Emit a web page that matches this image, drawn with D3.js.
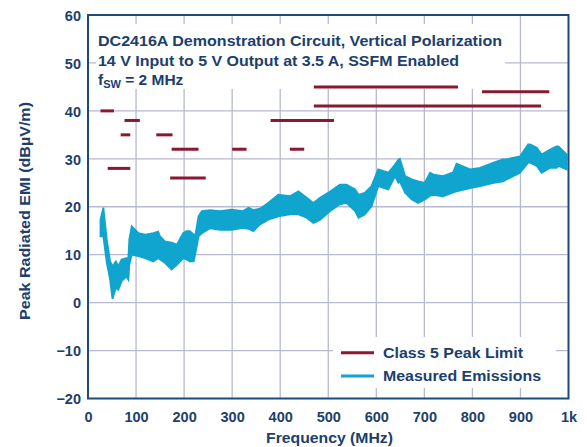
<!DOCTYPE html>
<html>
<head>
<meta charset="utf-8">
<script src="https://cdn.jsdelivr.net/npm/d3@7"></script>
<style>
  html, body { margin: 0; padding: 0; background: #fff; }
  svg text { font-family: "Liberation Sans", Arial, Helvetica, sans-serif; font-weight: bold; fill: #1c406d; }
</style>
</head>
<body>
<svg id="chart" width="587" height="447"></svg>
<script>
// ---------- data ----------
const xTickValues = [0, 100, 200, 300, 400, 500, 600, 700, 800, 900, 1000];
const xTickLabels = ["0", "100", "200", "300", "400", "500", "600", "700", "800", "900", "1k"];
const yTickValues = [-20, -10, 0, 10, 20, 30, 40, 50, 60];
const yTickLabels = ["\u221220", "\u221210", "0", "10", "20", "30", "40", "50", "60"];

// Class 5 peak limit segments (MHz start, MHz end, dBµV/m)
const limitStart = [26, 41, 68, 76, 142, 171, 174, 300, 380, 420, 470, 470, 820];
const limitEnd   = [54, 88, 88, 108, 176, 245, 230, 330, 512, 450, 770, 943, 960];
const limitLevel = [40, 28, 35, 38, 35, 26, 32, 32, 38, 32, 45, 41, 44];

// Measured emissions envelope (MHz, low, high in dBµV/m)
const emisFreq = [26, 32, 39, 46, 51, 58, 63, 70, 80, 84, 86, 91, 105, 119, 136, 146, 150, 160, 174, 185, 198, 205, 212, 220, 223, 230, 237, 254, 275, 299, 323, 334, 344, 358, 375, 396, 420, 438, 455, 469, 483, 504, 524, 538, 556, 563, 576, 590, 604, 625, 639, 646, 649, 660, 674, 687, 701, 712, 719, 739, 760, 767, 795, 816, 844, 864, 871, 899, 916, 920, 934, 944, 961, 975, 979, 996];
const emisLow  = [13.8, 13.8, 8.4, 4.8, 0.8, 3.1, 2.7, 4.5, 5.5, 4.8, 7.9, 10.0, 9.7, 9.3, 8.6, 9.3, 9.0, 8.3, 6.9, 7.9, 9.3, 9.0, 8.6, 8.6, 10.0, 13.8, 14.5, 15.5, 15.2, 15.2, 15.6, 15.4, 14.9, 16.3, 17.3, 18.0, 18.4, 18.4, 17.7, 16.6, 17.3, 19.1, 20.5, 20.8, 19.1, 17.7, 18.4, 20.1, 24.3, 23.6, 26.4, 25.0, 25.3, 22.9, 21.5, 20.8, 21.5, 22.3, 22.5, 22.2, 23.0, 23.2, 23.9, 24.3, 25.0, 25.3, 25.7, 27.1, 29.2, 29.2, 28.5, 27.1, 28.1, 28.1, 28.5, 27.8];
const emisHigh = [17.3, 19.8, 13.2, 8.6, 7.6, 8.6, 7.6, 9.0, 9.3, 9.3, 13.2, 15.9, 14.5, 14.2, 14.5, 14.8, 13.8, 12.8, 12.5, 12.1, 14.5, 14.9, 14.9, 14.2, 13.8, 18.0, 19.1, 19.3, 19.1, 19.4, 19.1, 19.8, 19.3, 19.6, 20.8, 22.5, 22.2, 23.2, 21.9, 20.8, 21.9, 23.2, 24.6, 24.6, 23.6, 22.5, 22.9, 24.3, 27.8, 27.1, 28.8, 29.8, 30.0, 26.4, 25.7, 25.3, 25.0, 27.1, 26.7, 26.4, 27.2, 29.0, 27.8, 28.1, 29.2, 29.9, 29.9, 30.5, 33.0, 33.0, 32.3, 30.9, 31.9, 32.6, 32.6, 30.9];

const titleLines = ["DC2416A Demonstration Circuit, Vertical Polarization", "14 V Input to 5 V Output at 3.5 A, SSFM Enabled"];
const legendLabels = ["Class 5 Peak Limit", "Measured Emissions"];

// ---------- layout ----------
const svg = d3.select("#chart");
const L = 88, R = 568.5, T = 15, B = 398.5;
const x = d3.scaleLinear().domain([0, 1000]).range([L, R]);
const y = d3.scaleLinear().domain([-20, 60]).range([B, T]);
const navy = "#1c406d", frame = "#1d4a78", grid = "#b7b9cd";
const red = "#8a1830", blue = "#10a5cf";

function fit(sel, w) { sel.attr("textLength", w).attr("lengthAdjust", "spacingAndGlyphs"); return sel; }

// grid
svg.append("g").selectAll("line.v").data(xTickValues.slice(1, -1)).join("line")
  .attr("x1", d => x(d)).attr("x2", d => x(d)).attr("y1", T).attr("y2", B)
  .attr("stroke", grid).attr("stroke-width", 1.3);
svg.append("g").selectAll("line.h").data(yTickValues.slice(1, -1)).join("line")
  .attr("x1", L).attr("x2", R).attr("y1", d => y(d)).attr("y2", d => y(d))
  .attr("stroke", grid).attr("stroke-width", 1.3);

// title box background
svg.append("rect").attr("x", 96).attr("y", 24).attr("width", 409).attr("height", 65).attr("fill", "#fff");

// emissions band
const idx = d3.range(emisFreq.length);
const area = d3.area().x(i => x(emisFreq[i])).y0(i => y(emisLow[i])).y1(i => y(emisHigh[i]));
svg.append("path").datum(idx).attr("d", area)
  .attr("fill", blue).attr("stroke", blue).attr("stroke-width", 1.8).attr("stroke-linejoin", "miter");

// limit segments
svg.append("g").selectAll("line").data(d3.range(limitStart.length)).join("line")
  .attr("x1", i => x(limitStart[i])).attr("x2", i => x(limitEnd[i]))
  .attr("y1", i => y(limitLevel[i])).attr("y2", i => y(limitLevel[i]))
  .attr("stroke", red).attr("stroke-width", 3);

// legend box
svg.append("rect").attr("x", 333).attr("y", 337).attr("width", 223).attr("height", 51).attr("fill", "#fff");
const legColors = [red, blue];
const legY = [352.7, 376];
const legW = [140, 158];
legendLabels.forEach((t, i) => {
  svg.append("line").attr("x1", 341).attr("x2", 374).attr("y1", legY[i]).attr("y2", legY[i])
    .attr("stroke", legColors[i]).attr("stroke-width", 3);
  fit(svg.append("text").attr("x", 383).attr("y", legY[i]).attr("dy", "0.36em")
    .attr("font-size", 14.5).text(t), legW[i]);
});

// frame
svg.append("rect").attr("x", L).attr("y", T).attr("width", R - L).attr("height", B - T)
  .attr("fill", "none").attr("stroke", frame).attr("stroke-width", 2);

// axes labels (ticks)
const xAxis = d3.axisBottom(x).tickValues(xTickValues).tickSize(0).tickPadding(0)
  .tickFormat((d, i) => xTickLabels[i]);
const gx = svg.append("g").attr("transform", `translate(0,${B})`).call(xAxis);
gx.select(".domain").remove();
gx.selectAll("text").attr("y", 18.5).attr("dy", "0.36em").attr("font-size", 14.5)
  .attr("font-family", null).attr("fill", navy);

const yAxis = d3.axisLeft(y).tickValues(yTickValues).tickSize(0).tickPadding(0)
  .tickFormat((d, i) => yTickLabels[i]);
const gy = svg.append("g").attr("transform", `translate(81,0)`).call(yAxis);
gy.select(".domain").remove();
gy.selectAll("text").attr("x", 0).attr("dy", "0.36em").attr("font-size", 14.5)
  .attr("font-family", null).attr("fill", navy);

// axis titles
fit(svg.append("text").attr("x", 329.5).attr("y", 438).attr("dy", "0.36em")
  .attr("text-anchor", "middle").attr("font-size", 14.5).text("Frequency (MHz)"), 127);
fit(svg.append("text").attr("transform", "translate(25,211) rotate(-90)").attr("dy", "0.36em")
  .attr("text-anchor", "middle").attr("font-size", 14.5).text("Peak Radiated EMI (dB\u00b5V/m)"), 218);

// title
const titleW = [404, 361];
const titleY = [40.7, 60.7];
titleLines.forEach((t, i) => {
  fit(svg.append("text").attr("x", 98).attr("y", titleY[i]).attr("dy", "0.36em")
    .attr("font-size", 15).text(t), titleW[i]);
});
const t3 = svg.append("text").attr("x", 98).attr("y", 79.3).attr("dy", "0.36em").attr("font-size", 15.5);
t3.append("tspan").text("f");
t3.append("tspan").attr("font-size", 11).attr("dy", 3).text("SW");
t3.append("tspan").attr("dy", -3).text(" = 2 MHz");
</script>
</body>
</html>
